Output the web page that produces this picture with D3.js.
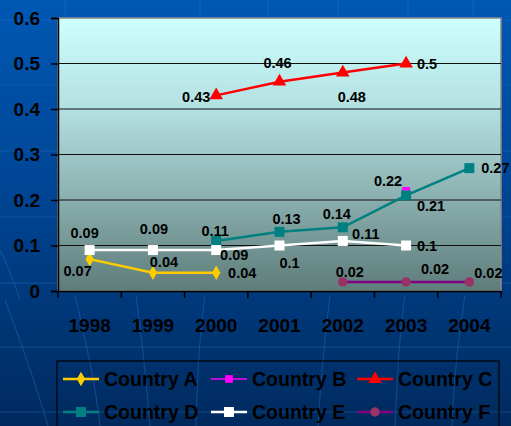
<!DOCTYPE html>
<html><head><meta charset="utf-8">
<script src="https://cdn.jsdelivr.net/npm/d3@7"></script>
<style>html,body{margin:0;padding:0;overflow:hidden;background:#003a80}</style>
</head><body>
<script>
const years = ["1998","1999","2000","2001","2002","2003","2004"];
const yTicks = [0, 0.1, 0.2, 0.3, 0.4, 0.5, 0.6];
const seriesNames = ["Country A","Country B","Country C","Country D","Country E","Country F"];
const countryA = [0.07, 0.04, 0.04, null, null, null, null];
const countryB = [null, null, null, null, null, 0.22, null];
const countryC = [null, null, 0.43, 0.46, 0.48, 0.5, null];
const countryD = [null, null, 0.11, 0.13, 0.14, 0.21, 0.27];
const countryE = [0.09, 0.09, 0.09, 0.1, 0.11, 0.1, null];
const countryF = [null, null, null, null, 0.02, 0.02, 0.02];
const seriesValues = [countryA, countryB, countryC, countryD, countryE, countryF];

// label offsets (placement only)
const labelOffsets = [
  [[-12,12],[11,-11],[26,0],null,null,null,null],
  [null,null,null,null,null,[-18,-10],null],
  [null,null,[-20,2],[-2,-19],[9,24],[21,0],null],
  [null,null,[-1,-10],[7,-13],[-6,-13],[25,11],[26,0]],
  [[-5,-17],[1,-21],[18,5],[10,17],[23,-7],[21,0],null],
  [null,null,null,null,[7,-10],[29,-13],[19,-9]]
];
const styles = [
  {line:"#FFCC00", fill:"#FFCC00", sym:"diamond", w:2.5, size:60},
  {line:"#FF00FF", fill:"#FF00FF", sym:"square", w:1.5, size:60},
  {line:"#FF0000", fill:"#FF0000", sym:"triangle", w:2.5, size:80},
  {line:"#008080", fill:"#008080", sym:"square", w:2.5, size:100},
  {line:"#FFFFFF", fill:"#FFFFFF", sym:"square", w:2.5, size:100},
  {line:"#800080", fill:"#993366", sym:"circle", w:2.5, size:70}
];
const symMap = {diamond:d3.symbolDiamond, square:d3.symbolSquare, triangle:d3.symbolTriangle, circle:d3.symbolCircle};

const W = 511, H = 426;
const svg = d3.select("body").append("svg").attr("width", W).attr("height", H);
const defs = svg.append("defs");
const bg = defs.append("linearGradient").attr("id","bg").attr("x1",0).attr("y1",0).attr("x2",0).attr("y2",1);
bg.append("stop").attr("offset",0).attr("stop-color","#0058b4");
bg.append("stop").attr("offset",0.45).attr("stop-color","#004594");
bg.append("stop").attr("offset",1).attr("stop-color","#002a5e");
const pg = defs.append("linearGradient").attr("id","pg").attr("x1",0).attr("y1",0).attr("x2",0).attr("y2",1);
pg.append("stop").attr("offset",0).attr("stop-color","#ccffff");
pg.append("stop").attr("offset",0.35).attr("stop-color","#b2dede");
pg.append("stop").attr("offset",1).attr("stop-color","#5e7c7a");

svg.append("rect").attr("width",W).attr("height",H).attr("fill","url(#bg)");
// faint background decoration
const deco = svg.append("g").attr("stroke","#2a78cc").attr("stroke-opacity",0.35).attr("fill","none").attr("stroke-width",1.2);
[20,85,151,217,283,347,412].forEach(y=>deco.append("line").attr("x1",0).attr("x2",W).attr("y1",y).attr("y2",y));
[65,200,268,338,408,473].forEach(x=>deco.append("line").attr("x1",x).attr("x2",x).attr("y1",0).attr("y2",18));
deco.append("path").attr("d","M5,300 C20,340 35,380 48,426");
deco.append("path").attr("d","M75,295 C85,340 95,380 100,426");
deco.append("path").attr("d","M136,295 C140,330 145,360 150,426");
deco.append("path").attr("d","M205,295 C200,330 198,360 196,426");
deco.append("path").attr("d","M330,295 C326,330 322,360 318,426");
deco.append("path").attr("d","M405,295 C400,330 398,360 395,426");
deco.append("path").attr("d","M465,295 C460,330 455,360 452,426");
deco.append("path").attr("d","M0,250 C10,270 15,285 20,300");

const m = {l:58, r:501, t:18, b:291};
const x = d3.scaleBand().domain(years).range([m.l, m.r]);
const y = d3.scaleLinear().domain([0,0.6]).range([m.b, m.t]);

svg.append("rect").attr("x",m.l).attr("y",m.t).attr("width",m.r-m.l).attr("height",m.b-m.t)
  .attr("fill","url(#pg)").attr("stroke","#8a8a8a").attr("stroke-width",1.5);

// gridlines
svg.append("g").selectAll("line").data(yTicks.filter(t=>t>0 && t<0.6)).join("line")
  .attr("x1",m.l).attr("x2",m.r).attr("y1",d=>y(d)).attr("y2",d=>y(d))
  .attr("stroke","#111").attr("stroke-width",1.2);

// y axis
const yAx = svg.append("g").attr("transform",`translate(${m.l},0)`)
  .call(d3.axisLeft(y).tickValues(yTicks).tickSize(7).tickPadding(11).tickFormat(d=>d===0?"0":d3.format(".1f")(d)));
yAx.select(".domain").attr("stroke","#000").attr("stroke-width",1.5);
yAx.selectAll(".tick line").attr("stroke","#000").attr("stroke-width",1.5);
yAx.selectAll("text").attr("font-family","Liberation Sans, Arial, sans-serif").attr("font-weight","bold")
  .attr("font-size","19px").attr("fill","#000");

// x axis
const xAx = svg.append("g").attr("transform",`translate(0,${m.b})`)
  .call(d3.axisBottom(x).tickSize(0).tickPadding(28));
xAx.select(".domain").attr("stroke","#000").attr("stroke-width",1.5);
xAx.selectAll("text").attr("font-family","Liberation Sans, Arial, sans-serif").attr("font-weight","bold")
  .attr("font-size","19px").attr("fill","#000");
xAx.append("g").selectAll("line").data(d3.range(years.length+1)).join("line")
  .attr("x1",i=>m.l+i*x.step()).attr("x2",i=>m.l+i*x.step()).attr("y1",0).attr("y2",7)
  .attr("stroke","#000").attr("stroke-width",1.5);

const cx = i => x(years[i]) + x.bandwidth()/2;
const lineGen = d3.line().defined(d=>d.v!==null).x(d=>cx(d.i)).y(d=>y(d.v));

// draw series
seriesValues.forEach((vals, s) => {
  const st = styles[s];
  const pts = vals.map((v,i)=>({v,i}));
  svg.append("path").datum(pts).attr("d",lineGen).attr("fill","none")
    .attr("stroke",st.line).attr("stroke-width",st.w);
  svg.append("g").selectAll("path").data(pts.filter(p=>p.v!==null)).join("path")
    .attr("transform",p=>`translate(${cx(p.i)},${y(p.v)})`)
    .attr("d",d3.symbol().type(symMap[st.sym]).size(st.size)).attr("fill",st.fill);
});
// labels
seriesValues.forEach((vals, s) => {
  svg.append("g").selectAll("text").data(vals.map((v,i)=>({v,i})).filter(p=>p.v!==null)).join("text")
    .attr("x",p=>cx(p.i)+labelOffsets[s][p.i][0]).attr("y",p=>y(p.v)+labelOffsets[s][p.i][1])
    .attr("text-anchor","middle").attr("dominant-baseline","central")
    .attr("font-family","Liberation Sans, Arial, sans-serif").attr("font-weight","bold")
    .attr("font-size","14.5px").attr("fill","#000").text(p=>String(p.v));
});

// legend
svg.append("rect").attr("x",57).attr("y",361).attr("width",442).attr("height",80)
  .attr("fill","none").attr("stroke","#000").attr("stroke-width",1.2);
const legCols = [63, 211, 357], legRows = [379, 412];
seriesNames.forEach((name, s) => {
  const st = styles[s];
  const gx = legCols[s%3], gy = legRows[Math.floor(s/3)];
  const g = svg.append("g").attr("transform",`translate(${gx},${gy})`);
  g.append("line").attr("x1",0).attr("x2",36).attr("stroke",st.line).attr("stroke-width",s===1?1.5:2.5);
  g.append("path").attr("transform","translate(18,0)").attr("d",d3.symbol().type(symMap[st.sym]).size(st.size)).attr("fill",st.fill);
  g.append("text").attr("x",41).attr("y",0).attr("dominant-baseline","central")
    .attr("font-family","Liberation Sans, Arial, sans-serif").attr("font-weight","bold")
    .attr("font-size","19.5px").attr("fill","#000").text(name);
});
</script>
</body></html>
